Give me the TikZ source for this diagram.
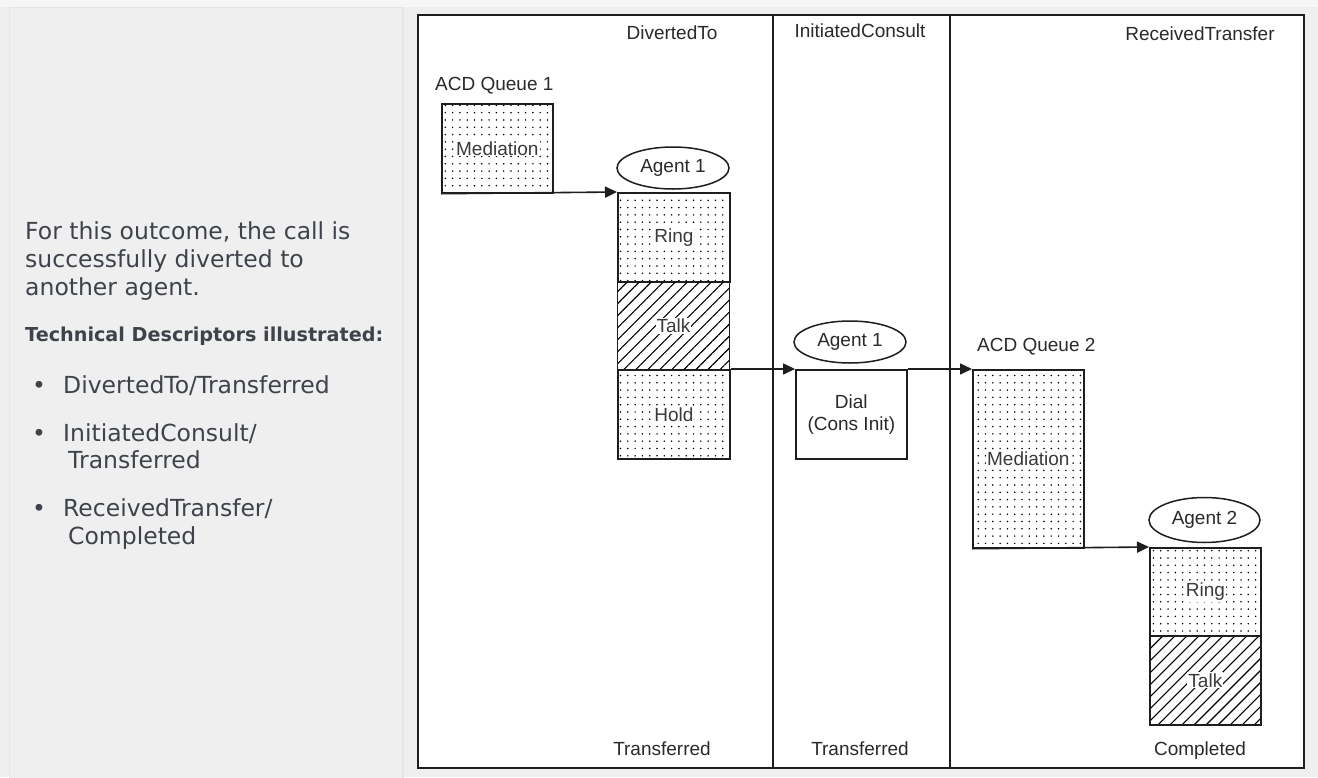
\documentclass[tikz,border=0pt]{standalone}
\usepackage{fontspec}
\setmainfont{Liberation Sans}
\newfontfamily\dejavu{DejaVu Sans}
\usetikzlibrary{shapes.geometric,patterns.meta,arrows.meta}
\definecolor{bggray}{HTML}{EFEFEF}
\definecolor{topgray}{HTML}{F6F6F6}
\definecolor{panelline}{HTML}{E1E5EC}
\definecolor{sidetext}{HTML}{3E434B}
\definecolor{ink}{HTML}{1E1E1E}
\definecolor{dtext}{HTML}{2A2A2A}
\definecolor{ltext}{HTML}{3A3A3A}
\tikzset{
  sidefont/.style={font=\dejavu\fontsize{23.5}{28}\selectfont, text=sidetext, inner sep=0pt, anchor=base west},
  sidebold/.style={font=\dejavu\bfseries\fontsize{19.2}{23}\selectfont, text=sidetext, inner sep=0pt, anchor=base west},
  bulletmark/.style={font=\dejavu\fontsize{23.5}{28}\selectfont, text=sidetext, inner sep=0pt, anchor=base},
  dtxt/.style={font=\fontsize{19}{22}\selectfont, text=dtext, inner sep=0pt},
  frameline/.style={draw=ink, line width=2pt},
  boxbase/.style={draw=ink, line width=1.7pt, inner sep=0pt, anchor=north west, minimum width=112pt},
  dotbox/.style={boxbase, pattern={Dots[distance=7.3pt, radius=0.85pt]}, pattern color=black},
  hatchbox/.style={boxbase, pattern={Lines[angle=45, distance=8.5pt, line width=1.1pt]}, pattern color=black},
  boxlabel/.style={font=\fontsize{19}{22}\selectfont, text=ltext, fill=white, inner sep=1pt},
  agent/.style={ellipse, draw=ink, line width=1.5pt, inner sep=0pt, minimum width=112pt, minimum height=42pt, font=\fontsize{19}{22}\selectfont, text=dtext},
  conn/.style={draw=ink, line width=1.6pt, -{Triangle[length=12pt, width=11pt]}},
}
\begin{document}
\begin{tikzpicture}[x=1pt,y=-1pt]
\useasboundingbox (0,0) rectangle (1318,777);
% page background
\fill[bggray] (0,0) rectangle (1318,777);
\fill[topgray] (0,0) rectangle (1318,7);
\draw[panelline, line width=1.2pt, fill=bggray] (9.5,7.5) -- (9.5,780) -- (403,780) -- (403,7.5) -- cycle;

% left text
\node[sidefont] (t1) at (25,239) {For this outcome, the call is};
\node[sidefont] (t2) at (25,267) {successfully diverted to};
\node[sidefont] (t3) at (25,295) {another agent.};
\node[sidebold] (th) at (25,341) {Technical Descriptors illustrated:};
\node[bulletmark] (b1) at (39,393) {•};
\node[sidefont] (l1) at (63,393) {DivertedTo/Transferred};
\node[bulletmark] (b2) at (39,441) {•};
\node[sidefont] (l2a) at (63,441) {InitiatedConsult/};
\node[sidefont] (l2b) at (68,468.5) {Transferred};
\node[bulletmark] (b3) at (39,516) {•};
\node[sidefont] (l3a) at (63,516) {ReceivedTransfer/};
\node[sidefont] (l3b) at (68,544) {Completed};

% diagram frame
\fill[white] (418,15) rectangle (1304,768);
\draw[frameline] (418,15) rectangle (1304,768);
\draw[frameline] (773,15) -- (773,768);
\draw[frameline] (950,15) -- (950,768);

% headers and footers
\node[dtxt, anchor=base] (h1) at (672,39) {DivertedTo};
\node[dtxt, anchor=base] (h2) at (860,37) {InitiatedConsult};
\node[dtxt, anchor=base] (h3) at (1200,40) {ReceivedTransfer};
\node[dtxt, anchor=base] (f1) at (662,755) {Transferred};
\node[dtxt, anchor=base] (f2) at (860,755) {Transferred};
\node[dtxt, anchor=base] (f3) at (1200,755) {Completed};

% column 1
\node[dtxt, anchor=base west] (q1) at (435,90.5) {ACD Queue 1};
\node[dotbox, minimum width=111pt, minimum height=89pt, label={[boxlabel]center:Mediation}] (med1) at (441,103) {};
\node[agent] (ag1) at (673,168) {Agent 1};
\node[dotbox, minimum height=89pt, label={[boxlabel]center:Ring}] (ring1) at (617,192) {};
\node[hatchbox, minimum height=88pt, label={[boxlabel]center:Talk}] (talk1) at (617,281) {};
\node[dotbox, minimum height=89pt, label={[boxlabel]center:Hold}] (hold1) at (617,369) {};

% column 2
\node[agent] (ag1b) at (850,342) {Agent 1};
\node[boxbase, minimum width=111pt, minimum height=89pt, align=center, font=\fontsize{19}{22.5}\selectfont, text=dtext] (dial) at (795,369) {Dial\\(Cons Init)};

% column 3
\node[dtxt, anchor=base west] (q2) at (977,351) {ACD Queue 2};
\node[dotbox, minimum width=111pt, minimum height=178pt, label={[boxlabel]center:Mediation}] (med2) at (972,369) {};
\node[agent, minimum width=111pt, minimum height=45pt] (ag2) at (1204.5,520) {Agent 2};
\node[dotbox, minimum width=111pt, minimum height=88pt, label={[boxlabel]center:Ring}] (ring2) at (1149,547) {};
\node[hatchbox, minimum width=111pt, minimum height=89pt, label={[boxlabel]center:Talk}] (talk2) at (1149,635) {};

% connectors
\draw[conn] (med1.south west) -- (ring1.north west);
\draw[conn] (hold1.north east) -- (dial.north west);
\draw[conn] (dial.north east) -- (med2.north west);
\draw[conn] (med2.south west) -- (ring2.north west);
\end{tikzpicture}
\end{document}
